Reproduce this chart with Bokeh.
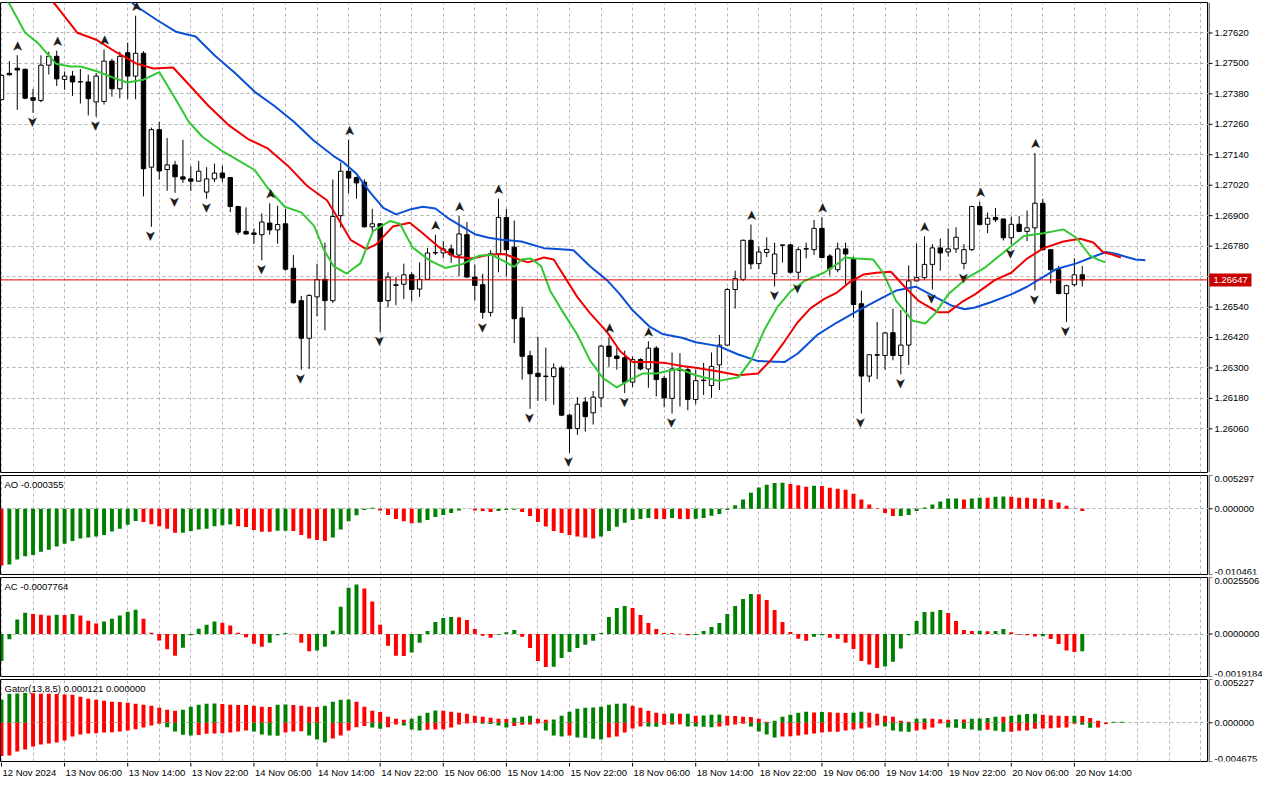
from math import pi
from bokeh.plotting import figure
from bokeh.models import ColumnDataSource, Range1d, FixedTicker, Span, Grid
from bokeh.layouts import column, row
from bokeh.embed import file_html
from bokeh.resources import INLINE
from bokeh.core.properties import value

# ---------------- data (H1 candles) ----------------
opens = [1.27357,1.27461,1.27481,1.27477,1.27365,1.27354,1.27493,1.27528,1.27437,1.27450,
 1.27427,1.27427,1.27348,1.27350,1.27509,1.27400,1.27542,1.27450,1.27540,1.27091,
 1.27239,1.27082,1.27100,1.27053,1.27045,1.27036,1.26993,1.27045,1.27068,1.27050,
 1.26936,1.26838,1.26832,1.26825,1.26871,1.26844,1.26868,1.26693,1.26565,1.26417,
 1.26580,1.26649,1.26565,1.26900,1.27075,1.27050,1.27032,1.26856,1.26868,1.26565,
 1.26625,1.26630,1.26667,1.26611,1.26649,1.26753,1.26753,1.26769,1.26745,1.26825,
 1.26658,1.26628,1.26519,1.26750,1.26893,1.26776,1.26497,1.26348,1.26279,1.26266,
 1.26266,1.26300,1.26114,1.26061,1.26166,1.26123,1.26182,1.26386,1.26347,1.26340,
 1.26244,1.26333,1.26296,1.26378,1.26259,1.26180,1.26293,1.26293,1.26176,1.26250,
 1.26231,1.26312,1.26390,1.26609,1.26649,1.26803,1.26711,1.26755,1.26671,1.26783,
 1.26785,1.26677,1.26768,1.26766,1.26850,1.26741,1.26687,1.26769,1.26729,1.26553,
 1.26268,1.26352,1.26349,1.26439,1.26349,1.26390,1.26643,1.26656,1.26708,1.26773,
 1.26757,1.26769,1.26712,1.26766,1.26936,1.26866,1.26893,1.26887,1.26813,1.26866,
 1.26838,1.26852,1.26949,1.26766,1.26687,1.26593,1.26628,1.26667]
highs = [1.27455,1.27509,1.27532,1.27479,1.27400,1.27532,1.27546,1.27550,1.27468,1.27470,
 1.27478,1.27456,1.27462,1.27555,1.27518,1.27546,1.27582,1.27688,1.27548,1.27247,
 1.27270,1.27206,1.27116,1.27199,1.27095,1.27116,1.27091,1.27105,1.27097,1.27052,
 1.26939,1.26933,1.26850,1.26909,1.26949,1.26939,1.26927,1.26745,1.26584,1.26590,
 1.26711,1.26794,1.27042,1.27109,1.27199,1.27054,1.27044,1.26927,1.26870,1.26677,
 1.26658,1.26711,1.26677,1.26716,1.26773,1.26825,1.26800,1.26786,1.26899,1.26875,
 1.26708,1.26671,1.26764,1.26967,1.26927,1.26881,1.26541,1.26368,1.26423,1.26380,
 1.26318,1.26308,1.26120,1.26185,1.26185,1.26209,1.26390,1.26420,1.26380,1.26368,
 1.26345,1.26338,1.26405,1.26386,1.26268,1.26361,1.26358,1.26305,1.26293,1.26320,
 1.26361,1.26430,1.26616,1.26683,1.26806,1.26865,1.26778,1.26815,1.26794,1.26786,
 1.26787,1.26776,1.26794,1.26883,1.26894,1.26749,1.26794,1.26794,1.26739,1.26605,
 1.26355,1.26481,1.26442,1.26534,1.26528,1.26704,1.26790,1.26819,1.26788,1.26810,
 1.26850,1.26854,1.26788,1.26939,1.26955,1.26912,1.26930,1.26889,1.26897,1.26899,
 1.26920,1.27147,1.26967,1.26766,1.26702,1.26628,1.26732,1.26702]
lows = [1.27355,1.27453,1.27317,1.27359,1.27305,1.27347,1.27456,1.27411,1.27396,1.27372,
 1.27342,1.27295,1.27290,1.27338,1.27369,1.27363,1.27359,1.27359,1.26976,1.26856,
 1.27042,1.26998,1.26990,1.27029,1.26998,1.27033,1.26967,1.27033,1.27033,1.26914,
 1.26825,1.26825,1.26790,1.26724,1.26825,1.26790,1.26683,1.26553,1.26293,1.26296,
 1.26504,1.26448,1.26556,1.26853,1.26988,1.26967,1.26853,1.26835,1.26442,1.26538,
 1.26547,1.26572,1.26562,1.26580,1.26647,1.26745,1.26732,1.26714,1.26662,1.26655,
 1.26565,1.26494,1.26503,1.26677,1.26662,1.26398,1.26254,1.26139,1.26170,1.26170,
 1.26155,1.26110,1.25966,1.26036,1.26049,1.26077,1.26145,1.26305,1.26293,1.26201,
 1.26225,1.26291,1.26222,1.26188,1.26145,1.26120,1.26148,1.26133,1.26157,1.26194,
 1.26182,1.26213,1.26388,1.26534,1.26642,1.26689,1.26689,1.26736,1.26621,1.26716,
 1.26672,1.26649,1.26732,1.26745,1.26732,1.26664,1.26677,1.26627,1.26497,1.26120,
 1.26244,1.26256,1.26293,1.26330,1.26275,1.26312,1.26640,1.26646,1.26609,1.26683,
 1.26739,1.26753,1.26689,1.26761,1.26862,1.26831,1.26875,1.26802,1.26786,1.26835,
 1.26800,1.26605,1.26763,1.26634,1.26590,1.26481,1.26621,1.26621]
closes = [1.27453,1.27455,1.27474,1.27363,1.27355,1.27493,1.27528,1.27439,1.27450,1.27427,
 1.27428,1.27361,1.27450,1.27509,1.27400,1.27528,1.27450,1.27540,1.27085,1.27239,
 1.27076,1.27100,1.27053,1.27044,1.27036,1.27075,1.27045,1.27068,1.27049,1.26936,
 1.26835,1.26828,1.26826,1.26875,1.26844,1.26865,1.26689,1.26557,1.26417,1.26586,
 1.26648,1.26565,1.26897,1.27075,1.27048,1.27029,1.26856,1.26868,1.26562,1.26658,
 1.26628,1.26667,1.26609,1.26649,1.26753,1.26755,1.26769,1.26745,1.26828,1.26658,
 1.26625,1.26519,1.26750,1.26893,1.26766,1.26494,1.26346,1.26277,1.26266,1.26268,
 1.26300,1.26114,1.26061,1.26157,1.26108,1.26185,1.26386,1.26345,1.26337,1.26244,
 1.26333,1.26296,1.26378,1.26254,1.26182,1.26296,1.26291,1.26176,1.26250,1.26252,
 1.26306,1.26390,1.26609,1.26652,1.26803,1.26710,1.26757,1.26767,1.26749,1.26785,
 1.26677,1.26766,1.26770,1.26850,1.26735,1.26691,1.26769,1.26749,1.26550,1.26268,
 1.26352,1.26350,1.26438,1.26349,1.26390,1.26643,1.26656,1.26708,1.26773,1.26753,
 1.26769,1.26815,1.26766,1.26936,1.26865,1.26890,1.26884,1.26813,1.26866,1.26838,
 1.26852,1.26949,1.26766,1.26687,1.26593,1.26624,1.26667,1.26647]

up_fractals = [2, 7, 13, 17, 34, 44, 55, 58, 63, 77, 82, 95, 104, 117, 124, 131]
down_fractals = [4, 12, 19, 22, 26, 33, 38, 48, 61, 67, 72, 79, 85, 98, 101, 109,
                 114, 118, 122, 128, 131, 135]

jaw_pos = [15.0, 16.9, 19.6, 22.1, 24.6, 27.1, 29.6, 32.1, 34.6, 37.1, 39.6, 42.1, 43.4, 45.0,
 46.75, 48.4, 50.0, 51.75, 53.4, 55.0, 56.75, 58.4, 60.0, 61.75, 63.4, 65.9, 68.75, 70.9,
 72.5, 74.6, 76.75, 78.4, 80.0, 82.1, 83.75, 86.25, 88.0, 90.9, 93.4, 95.9, 99.25, 100.9,
 103.4, 105.9, 108.4, 110.9, 113.4, 115.9, 118.4, 120.5, 122.1, 123.4, 125.5, 128.0, 130.0,
 131.75, 133.75, 136.25, 138.4, 140.0, 141.25, 142.5, 143.75, 145.0]
jaw_val = [1.27790, 1.27729, 1.27673, 1.27625, 1.27606, 1.27529, 1.27462, 1.27388, 1.27332,
 1.27269, 1.27195, 1.27135, 1.27109, 1.27065, 1.26991, 1.26931, 1.26905, 1.26924, 1.26935,
 1.26928, 1.26887, 1.26857, 1.26827, 1.26813, 1.26805, 1.26798, 1.26772, 1.26768, 1.26764,
 1.26701, 1.26646, 1.26590, 1.26527, 1.26464, 1.26434, 1.26419, 1.26401, 1.26386, 1.26353,
 1.26327, 1.26323, 1.26356, 1.26430, 1.26479, 1.26523, 1.26564, 1.26605, 1.26620, 1.26579,
 1.26545, 1.26531, 1.26538, 1.26560, 1.26590, 1.26620, 1.26653, 1.26690, 1.26712, 1.26738,
 1.26757, 1.26750, 1.26738, 1.26727, 1.26724]

teeth_pos = [5.0, 6.9, 9.6, 12.1, 14.6, 17.1, 19.25, 21.75, 23.75, 26.25, 28.75, 31.25, 33.75,
 36.25, 38.75, 41.25, 42.5, 44.25, 46.25, 47.5, 49.6, 51.75, 53.4, 55.5, 57.5, 59.6, 61.75,
 63.75, 65.9, 66.75, 68.75, 70.0, 71.5, 73.0, 74.6, 76.75, 78.4, 80.0, 82.1, 84.25, 86.25,
 88.0, 90.9, 93.4, 95.9, 97.5, 99.25, 100.9, 102.5, 104.25, 105.9, 107.5, 109.25, 110.9,
 112.75, 114.6, 116.25, 118.75, 120.0, 121.75, 123.4, 125.9, 128.0, 130.0, 132.1, 134.6,
 136.75, 138.4, 139.6, 140.9, 141.9]
teeth_val = [1.27790, 1.27729, 1.27621, 1.27592, 1.27543, 1.27499, 1.27480, 1.27484, 1.27417,
 1.27332, 1.27258, 1.27202, 1.27165, 1.27098, 1.27017, 1.26961, 1.26898, 1.26805, 1.26768,
 1.26787, 1.26857, 1.26872, 1.26831, 1.26775, 1.26738, 1.26731, 1.26746, 1.26749, 1.26724,
 1.26716, 1.26735, 1.26727, 1.26653, 1.26579, 1.26516, 1.26442, 1.26367, 1.26323, 1.26323,
 1.26319, 1.26308, 1.26301, 1.26286, 1.26271, 1.26278, 1.26330, 1.26404, 1.26479, 1.26534,
 1.26571, 1.26597, 1.26638, 1.26668, 1.26675, 1.26679, 1.26616, 1.26564, 1.26519, 1.26519,
 1.26560, 1.26590, 1.26646, 1.26675, 1.26731, 1.26772, 1.26798, 1.26809, 1.26794, 1.26757,
 1.26746, 1.26735]

lips_pos = [-0.2, 1.1, 3.0, 4.6, 6.9, 8.75, 10.0, 12.1, 14.25, 15.9, 18.0, 20.0, 22.1, 23.75,
 25.5, 28.0, 30.5, 32.1, 33.75, 35.9, 38.0, 39.6, 40.9, 42.1, 43.75, 45.5, 47.1, 49.25, 50.5,
 52.1, 54.25, 56.25, 58.4, 60.5, 62.1, 63.75, 65.0, 65.9, 67.1, 68.4, 69.6, 71.25, 73.0, 74.6,
 76.25, 78.0, 79.6, 81.25, 83.0, 84.6, 85.9, 88.0, 90.9, 93.4, 95.0, 96.75, 98.4, 100.0,
 101.75, 104.25, 105.9, 106.9, 108.4, 110.5, 111.75, 113.4, 115.5, 117.1, 118.4, 120.0,
 122.5, 124.6, 127.1, 129.6, 132.1, 134.6, 136.25, 138.0, 139.0, 139.9]
lips_val = [1.27800, 1.27729, 1.27621, 1.27581, 1.27499, 1.27488, 1.27488, 1.27469, 1.27443,
 1.27425, 1.27436, 1.27466, 1.27358, 1.27269, 1.27210, 1.27154, 1.27109, 1.27080, 1.27009,
 1.26935, 1.26913, 1.26861, 1.26764, 1.26701, 1.26672, 1.26712, 1.26839, 1.26879, 1.26868,
 1.26775, 1.26724, 1.26694, 1.26709, 1.26742, 1.26746, 1.26720, 1.26698, 1.26727, 1.26731,
 1.26701, 1.26601, 1.26516, 1.26431, 1.26330, 1.26260, 1.26223, 1.26252, 1.26278, 1.26278,
 1.26289, 1.26297, 1.26271, 1.26249, 1.26263, 1.26330, 1.26453, 1.26542, 1.26601, 1.26642,
 1.26675, 1.26709, 1.26735, 1.26731, 1.26727, 1.26675, 1.26564, 1.26486, 1.26475, 1.26516,
 1.26590, 1.26657, 1.26694, 1.26757, 1.26820, 1.26831, 1.26846, 1.26813, 1.26742, 1.26727,
 1.26716]

ao = [-0.00903,-0.00887,-0.00809,-0.00756,-0.00736,-0.00683,-0.00652,-0.00600,-0.00558,-0.00511,
 -0.00475,-0.00459,-0.00443,-0.00417,-0.00360,-0.00318,-0.00256,-0.00193,-0.00209,-0.00245,
 -0.00277,-0.00318,-0.00381,-0.00380,-0.00355,-0.00329,-0.00318,-0.00277,-0.00261,-0.00250,
 -0.00277,-0.00292,-0.00339,-0.00365,-0.00366,-0.00350,-0.00348,-0.00352,-0.00417,-0.00475,
 -0.00496,-0.00511,-0.00459,-0.00329,-0.00198,-0.00104,-0.00021,0.00016,-0.00026,-0.00099,
 -0.00162,-0.00198,-0.00230,-0.00224,-0.00177,-0.00130,-0.00099,-0.00068,-0.00026,0.00002,
 -0.00026,-0.00037,-0.00052,-0.00037,-0.00021,-0.00016,-0.00052,-0.00115,-0.00209,-0.00282,
 -0.00355,-0.00386,-0.00417,-0.00443,-0.00459,-0.00475,-0.00443,-0.00355,-0.00287,-0.00224,
 -0.00177,-0.00162,-0.00146,-0.00162,-0.00163,-0.00146,-0.00162,-0.00164,-0.00160,-0.00146,
 -0.00110,-0.00083,-0.00021,0.00057,0.00146,0.00256,0.00339,0.00381,0.00412,0.00413,
 0.00396,0.00376,0.00350,0.00365,0.00364,0.00334,0.00318,0.00303,0.00240,0.00146,
 0.00068,0.00010,-0.00068,-0.00115,-0.00114,-0.00099,-0.00037,0.00021,0.00068,0.00115,
 0.00162,0.00163,0.00146,0.00162,0.00177,0.00176,0.00193,0.00194,0.00190,0.00177,
 0.00176,0.00162,0.00160,0.00141,0.00099,0.00047,-0.00003,-0.000355]

ac = [-0.00122,-0.00024,0.00065,0.00096,0.00090,0.00087,0.00083,0.00087,0.00086,0.00090,
 0.00084,0.00060,0.00047,0.00056,0.00069,0.00083,0.00101,0.00110,0.00069,0.00006,
 -0.00029,-0.00069,-0.00098,-0.00062,-0.00006,0.00024,0.00042,0.00056,0.00051,0.00038,
 0.00006,-0.00015,-0.00044,-0.00057,-0.00039,-0.00006,0.00005,0.00001,-0.00039,-0.00078,
 -0.00074,-0.00057,0.00015,0.00123,0.00209,0.00223,0.00205,0.00147,0.00042,-0.00053,
 -0.00098,-0.00099,-0.00084,-0.00039,0.00014,0.00054,0.00072,0.00077,0.00076,0.00063,
 0.00023,-0.00008,-0.00017,-0.00003,0.00008,0.00018,-0.00012,-0.00063,-0.00122,-0.00149,
 -0.00148,-0.00108,-0.00081,-0.00063,-0.00048,-0.00030,0.00005,0.00077,0.00117,0.00126,
 0.00117,0.00086,0.00050,0.00023,0.00005,0.00004,0.00001,-0.00006,-0.00004,0.00014,
 0.00032,0.00050,0.00090,0.00126,0.00158,0.00181,0.00180,0.00154,0.00108,0.00054,
 0.00009,-0.00021,-0.00030,-0.00012,-0.00006,-0.00017,-0.00021,-0.00039,-0.00068,-0.00122,
 -0.00138,-0.00154,-0.00147,-0.00125,-0.00066,-0.00006,0.00059,0.00099,0.00100,0.00108,
 0.00095,0.00059,0.00018,0.00014,0.00015,0.00012,0.00013,0.00023,0.00008,-0.00003,
 -0.00006,-0.00011,-0.00010,-0.00023,-0.00045,-0.00075,-0.00081,-0.0007764]

gator_up = [0.00279,0.00351,0.00355,0.00360,0.00356,0.00352,0.00350,0.00347,0.00343,0.00339,
 0.00315,0.00291,0.00279,0.00267,0.00255,0.00252,0.00242,0.00230,0.00218,0.00206,
 0.00182,0.00158,0.00145,0.00158,0.00194,0.00218,0.00230,0.00232,0.00228,0.00218,
 0.00216,0.00214,0.00206,0.00194,0.00192,0.00218,0.00220,0.00216,0.00206,0.00194,
 0.00192,0.00206,0.00255,0.00279,0.00281,0.00255,0.00194,0.00145,0.00129,0.00073,
 0.00048,0.00036,0.00048,0.00085,0.00121,0.00147,0.00144,0.00133,0.00121,0.00109,
 0.00085,0.00073,0.00061,0.00048,0.00046,0.00061,0.00073,0.00085,0.00048,0.00036,
 0.00040,0.00085,0.00133,0.00170,0.00182,0.00184,0.00194,0.00218,0.00230,0.00232,
 0.00206,0.00182,0.00145,0.00121,0.00109,0.00111,0.00108,0.00110,0.00085,0.00089,
 0.00097,0.00101,0.00085,0.00083,0.00073,0.00069,0.00048,0.00012,0.00024,0.00073,
 0.00097,0.00121,0.00133,0.00125,0.00129,0.00126,0.00121,0.00117,0.00121,0.00133,
 0.00121,0.00109,0.00085,0.00073,0.00024,0.00012,0.00048,0.00053,0.00048,0.00044,
 0.00036,0.00042,0.00040,0.00048,0.00052,0.00057,0.00073,0.00072,0.00085,0.00097,
 0.00105,0.00109,0.00097,0.00089,0.00085,0.00081,0.00085,0.00081,0.00057,0.00024,
 0.00003,0.00012,0.000121]

gator_dn = [-0.00400,-0.00396,-0.00347,-0.00323,-0.00287,-0.00263,-0.00250,-0.00238,-0.00214,-0.00166,
 -0.00141,-0.00129,-0.00125,-0.00117,-0.00113,-0.00105,-0.00093,-0.00077,-0.00057,-0.00032,
 -0.00012,-0.00053,-0.00105,-0.00145,-0.00154,-0.00149,-0.00133,-0.00129,-0.00125,-0.00117,
 -0.00105,-0.00093,-0.00105,-0.00141,-0.00154,-0.00158,-0.00117,-0.00106,-0.00101,-0.00154,
 -0.00202,-0.00238,-0.00190,-0.00154,-0.00093,-0.00053,-0.00040,-0.00057,-0.00073,-0.00053,
 -0.00020,-0.00032,-0.00081,-0.00093,-0.00085,-0.00081,-0.00077,-0.00057,-0.00020,-0.00008,
 -0.00004,-0.00012,-0.00016,-0.00032,-0.00057,-0.00040,-0.00024,-0.00020,-0.00008,-0.00093,
 -0.00154,-0.00166,-0.00154,-0.00178,-0.00180,-0.00194,-0.00202,-0.00178,-0.00166,-0.00117,
 -0.00069,-0.00044,-0.00046,-0.00048,-0.00024,-0.00020,-0.00018,-0.00044,-0.00046,-0.00048,
 -0.00053,-0.00044,-0.00032,-0.00020,-0.00012,-0.00044,-0.00105,-0.00141,-0.00178,-0.00166,
 -0.00162,-0.00154,-0.00141,-0.00129,-0.00117,-0.00109,-0.00107,-0.00093,-0.00081,-0.00069,
 -0.00057,-0.00032,-0.00044,-0.00093,-0.00105,-0.00109,-0.00093,-0.00081,-0.00057,-0.00008,
 -0.00057,-0.00061,-0.00073,-0.00081,-0.00093,-0.00085,-0.00097,-0.00109,-0.00108,-0.00097,
 -0.00093,-0.00073,-0.00069,-0.00065,-0.00061,-0.00057,-0.00012,-0.00024,-0.00061,-0.00057,
 -0.00016]

last_price = 1.26647
price_ticks = [1.26060, 1.26180, 1.26300, 1.26420, 1.26540, 1.26660, 1.26780,
               1.26900, 1.27020, 1.27140, 1.27260, 1.27380, 1.27500, 1.27620]
price_labels = ["1.26060", "1.26180", "1.26300", "1.26420", "1.26540", "1.26660", "1.26780",
                "1.26900", "1.27020", "1.27140", "1.27260", "1.27380", "1.27500", "1.27620"]
price_range = (1.25888, 1.27740)
ao_range = (-0.010461, 0.005297)
ac_range = (-0.0019184, 0.0025506)
gator_range = (-0.004675, 0.005227)
ao_labels = ["0.005297", "0.000000", "-0.010461"]
ac_labels = ["0.0025506", "0.0000000", "-0.0019184"]
gator_labels = ["0.005227", "0.000000", "-0.004675"]
date_ticks = [0, 8, 16, 24, 32, 40, 48, 56, 64, 72, 80, 88, 96, 104, 112, 120, 128, 136]
date_labels = ["12 Nov 2024", "13 Nov 06:00", "13 Nov 14:00", "13 Nov 22:00", "14 Nov 06:00",
               "14 Nov 14:00", "14 Nov 22:00", "15 Nov 06:00", "15 Nov 14:00", "15 Nov 22:00",
               "18 Nov 06:00", "18 Nov 14:00", "18 Nov 22:00", "19 Nov 06:00", "19 Nov 14:00",
               "19 Nov 22:00", "20 Nov 06:00", "20 Nov 14:00"]
ao_title = "AO -0.000355"
ac_title = "AC -0.0007764"
gator_title = "Gator(13,8,5) 0.000121 0.000000"

# ---------------- style ----------------
FONT = value("Liberation Sans")
FS = value("9.5px")
UPC = "#008000"
DNC = "#ff0000"
JAWC = "#0a50d6"
TEETHC = "#f00000"
LIPSC = "#33c833"
VGRID = "#bcaec4"
HGRID = "#a9b4a4"
PW = 1208          # panel width
AW = 56            # axis strip width
XR = Range1d(-0.125, 153.0)
AXR = Range1d(0, AW)
vgrid_ticks = list(range(0, 153, 4))


def panel(height, yr, top=2, bottom=1):
    p = figure(width=PW, height=height, x_range=XR, y_range=yr,
               output_backend="svg", toolbar_location=None,
               y_axis_location=None, x_axis_location=None,
               min_border_left=0, min_border_right=0, min_border_top=top,
               min_border_bottom=bottom)
    p.outline_line_color = "black"
    p.outline_line_alpha = 1.0
    p.outline_line_width = 1
    p.background_fill_color = "white"
    p.border_fill_color = "white"
    p.grid.visible = False
    p.add_layout(Grid(dimension=0, ticker=FixedTicker(ticks=vgrid_ticks),
                      grid_line_color=VGRID, grid_line_dash="3 3", grid_line_width=1))
    return p


def axis_strip(height, yr, top=2, bottom=1):
    a = figure(width=AW, height=height, x_range=AXR, y_range=yr,
               output_backend="svg", toolbar_location=None,
               y_axis_location=None, x_axis_location=None,
               min_border_left=0, min_border_right=0, min_border_top=top,
               min_border_bottom=bottom)
    a.outline_line_color = None
    a.background_fill_color = "white"
    a.border_fill_color = "white"
    a.grid.visible = False
    a.segment(x0=[0.5], y0=[yr.start], x1=[0.5], y1=[yr.end], line_color="black", line_width=1)
    return a


def hist_colors(vals, first, use_abs=False):
    cols = [first]
    for a, b in zip(vals[:-1], vals[1:]):
        if use_abs:
            a, b = abs(a), abs(b)
        if b > a:
            cols.append(UPC)
        elif b < a:
            cols.append(DNC)
        else:
            cols.append(cols[-1])
    return cols


def ind_axis(a, rng, labels):
    ticks = [rng[1], 0.0, rng[0]]
    a.segment(x0=[0] * 3, y0=ticks, x1=[4] * 3, y1=ticks, line_color="black", line_width=1)
    for t, lab, base in zip(ticks, labels, ["top", "middle", "bottom"]):
        a.text(x=[6], y=[t], text=[lab], text_font=FONT, text_font_size=FS,
               text_color="black", text_align="left", text_baseline=base)


def title(p, text, rng):
    p.text(x=[XR.start], y=[rng[1]], x_offset=4, y_offset=3, text=[text], text_font=FONT,
           text_font_size=FS, text_color="black", text_align="left", text_baseline="top")


def zero_line(p):
    p.add_layout(Grid(dimension=1, ticker=FixedTicker(ticks=[0.0]),
                      grid_line_color=HGRID, grid_line_dash="3 3"))


# ---------------- price panel ----------------
PRICE_H = 473
YR1 = Range1d(*price_range)
p1 = panel(PRICE_H, YR1)
p1.add_layout(Grid(dimension=1, ticker=FixedTicker(ticks=price_ticks),
                   grid_line_color=HGRID, grid_line_dash="3 3"))

idx = list(range(len(opens)))
src = ColumnDataSource(dict(
    x=idx, o=opens, h=highs, l=lows, c=closes,
    top=[max(a, b) for a, b in zip(opens, closes)],
    bot=[min(a, b) for a, b in zip(opens, closes)],
    fill=["white" if c >= o else "black" for o, c in zip(opens, closes)]))
p1.segment(x0="x", y0="h", x1="x", y1="l", source=src, line_color="black", line_width=1)
p1.vbar(x="x", width=0.56, top="top", bottom="bot", source=src,
        fill_color="fill", line_color="black", line_width=1)

p1.line(jaw_pos, jaw_val, line_color=JAWC, line_width=2)
p1.line(teeth_pos, teeth_val, line_color=TEETHC, line_width=2)
p1.line(lips_pos, lips_val, line_color=LIPSC, line_width=2)

# fractal arrowheads
ARROW = "\u27a4"
p1.text(x=up_fractals, y=[highs[i] for i in up_fractals], y_offset=-9,
        text=[ARROW] * len(up_fractals), angle=pi / 2, text_align="center",
        text_baseline="middle", text_font=value("DejaVu Sans"), text_font_size=value("14px"),
        text_color="#1e1e1e")
p1.text(x=down_fractals, y=[lows[i] for i in down_fractals], y_offset=9,
        text=[ARROW] * len(down_fractals), angle=-pi / 2, text_align="center",
        text_baseline="middle", text_font=value("DejaVu Sans"), text_font_size=value("14px"),
        text_color="#1e1e1e")

p1.add_layout(Span(location=last_price, dimension="width", line_color="#e00000", line_width=1))

a1 = axis_strip(PRICE_H, YR1)
a1.segment(x0=[0] * len(price_ticks), y0=price_ticks, x1=[4] * len(price_ticks),
           y1=price_ticks, line_color="black", line_width=1)
a1.text(x=[6] * len(price_ticks), y=price_ticks, text=price_labels, text_font=FONT,
        text_font_size=FS, text_color="black", text_align="left", text_baseline="middle")
a1.rect(x=[22], y=[last_price], width=42, height=13, height_units="screen",
        fill_color="#c80000", line_color=None)
a1.text(x=[5], y=[last_price], text=["%.5f" % last_price], text_font=FONT,
        text_font_size=FS, text_color="white", text_align="left", text_baseline="middle")

# ---------------- AO ----------------
IND_H = 102
YR2 = Range1d(*ao_range)
p2 = panel(IND_H, YR2)
zero_line(p2)
p2.vbar(x=list(range(len(ao))), width=0.5, top=ao, bottom=0,
        fill_color=hist_colors(ao, DNC), line_color=None)
title(p2, ao_title, ao_range)
a2 = axis_strip(IND_H, YR2)
ind_axis(a2, ao_range, ao_labels)

# ---------------- AC ----------------
YR3 = Range1d(*ac_range)
p3 = panel(IND_H, YR3)
zero_line(p3)
p3.vbar(x=list(range(len(ac))), width=0.5, top=ac, bottom=0,
        fill_color=hist_colors(ac, UPC), line_color=None)
title(p3, ac_title, ac_range)
a3 = axis_strip(IND_H, YR3)
ind_axis(a3, ac_range, ac_labels)

# ---------------- Gator ----------------
G_H = 85
YR4 = Range1d(*gator_range)
p4 = panel(G_H, YR4)
zero_line(p4)
p4.vbar(x=list(range(len(gator_up))), width=0.5, top=gator_up, bottom=0,
        fill_color=hist_colors(gator_up, UPC), line_color=None)
p4.vbar(x=list(range(len(gator_dn))), width=0.5, top=0, bottom=gator_dn,
        fill_color=hist_colors(gator_dn, DNC, use_abs=True), line_color=None)
title(p4, gator_title, gator_range)
a4 = axis_strip(G_H, YR4)
ind_axis(a4, gator_range, gator_labels)

# ---------------- date axis strip ----------------
D_H = 20
pd = figure(width=PW, height=D_H, x_range=XR, y_range=Range1d(0, D_H),
            output_backend="svg", toolbar_location=None,
            y_axis_location=None, x_axis_location=None,
            min_border_left=0, min_border_right=0, min_border_top=0, min_border_bottom=0)
pd.outline_line_color = None
pd.grid.visible = False
pd.background_fill_color = "white"
pd.border_fill_color = "white"
pd.segment(x0=date_ticks, y0=[D_H] * len(date_ticks), x1=date_ticks,
           y1=[D_H - 4] * len(date_ticks), line_color="black", line_width=1)
pd.text(x=date_ticks, y=[D_H - 10] * len(date_ticks), text=date_labels, text_font=FONT,
        text_font_size=FS, text_color="black", text_align="left", text_baseline="middle",
        x_offset=1)

layout = column(row(p1, a1, spacing=0), row(p2, a2, spacing=0), row(p3, a3, spacing=0),
                row(p4, a4, spacing=0), pd, spacing=0)
open("out.html", "w").write(file_html(layout, INLINE))
